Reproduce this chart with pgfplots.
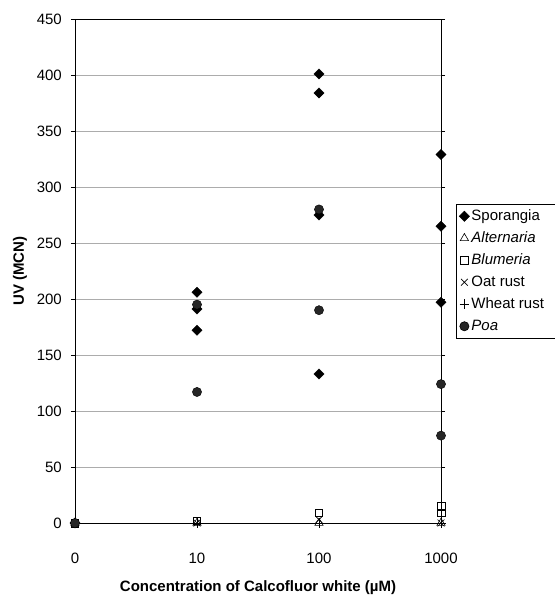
\documentclass[border=0pt]{standalone}
\usepackage{pgfplots}
\pgfplotsset{compat=1.18}
\usepackage{fontspec}
\setmainfont{Liberation Sans}
\begin{document}
\fontsize{15bp}{17bp}\selectfont
\begin{tikzpicture}
\begin{axis}[
  at={(0,0)}, anchor=south west,
  scale only axis, width=366bp, height=504bp,
  xmin=0, xmax=3, ymin=0, ymax=450,
  xtick={0,1,2,3}, xticklabels={0,10,100,1000},
  ytick={0,50,...,450},
  ymajorgrids, grid style={gray!65, line width=0.7bp},
  axis line style={line width=0.8bp},
  tick align=outside, major tick length=4bp,
  xtick style={draw=none},
  ytick style={black, line width=0.6bp},
  clip=false,
  ticklabel style={font=\fontsize{15bp}{17bp}\selectfont},
  /pgf/number format/assume math mode=true,
  yticklabel style={inner sep=0pt, anchor=east, xshift=-9bp},
  xticklabel style={inner sep=0pt, anchor=center, yshift=-31bp},
  xlabel={\bfseries Concentration of Calcofluor white (µM)},
  ylabel={\bfseries UV (MCN)},
  xlabel style={at={(axis description cs:0.5,-0.129)}, anchor=center, inner sep=0pt, font=\fontsize{15bp}{17bp}\selectfont},
  ylabel style={at={(axis description cs:-0.150,0.5)}, anchor=center, inner sep=0pt, font=\fontsize{15bp}{17bp}\selectfont},
  legend style={at={(1.041,0.633)}, anchor=north west, draw=black, line width=0.6bp,
    font=\fontsize{15bp}{17bp}\selectfont, row sep=0bp, inner xsep=3bp, inner ysep=1bp,
    nodes={text height=11bp, text depth=3bp, inner ysep=4bp}},
  legend cell align=left,
  legend image code/.code={\draw[mark repeat=2,mark phase=2,#1] plot coordinates {(0bp,0bp)(5bp,0bp)(10bp,0bp)};},
]
\addplot[only marks, mark=square*, mark options={rotate=45, fill=black, draw=black}, mark size=3.6bp] coordinates {
(0,0)(1,206)(1,191)(1,172)(2,401)(2,384)(2,275)(2,133)(3,329)(3,265)(3,197)};
\addlegendentry{\makebox[88bp][l]{Sporangia}}
\addplot[only marks, mark=triangle, mark options={draw=black, line width=0.6bp}, mark size=4.8bp] coordinates {
(0,0)(1,0)(2,0)(3,0)};
\addlegendentry{\itshape Alternaria}
\addplot[only marks, mark=square, mark options={draw=black, line width=0.6bp}, mark size=3.8bp] coordinates {
(0,0)(1,2)(2,9)(3,15)(3,9)};
\addlegendentry{\itshape Blumeria}
\addplot[only marks, mark=x, mark options={draw=black, line width=0.7bp}, mark size=4.8bp] coordinates {
(0,0)(1,0)(2,3)(3,0)};
\addlegendentry{Oat rust}
\addplot[only marks, mark=+, mark options={draw=black, line width=0.7bp}, mark size=4.8bp] coordinates {
(0,0)(1,0)(2,0)(3,0)};
\addlegendentry{Wheat rust}
\addplot[only marks, mark=*, mark options={fill=black!85, draw=black}, mark size=4.6bp] coordinates {
(0,0)(1,195)(1,117)(2,280)(2,190)(3,124)(3,78)};
\addlegendentry{\itshape Poa}
\end{axis}
\pgfresetboundingbox
\useasboundingbox (-75bp,-72bp) rectangle (480bp,523bp);
\end{tikzpicture}
\end{document}
